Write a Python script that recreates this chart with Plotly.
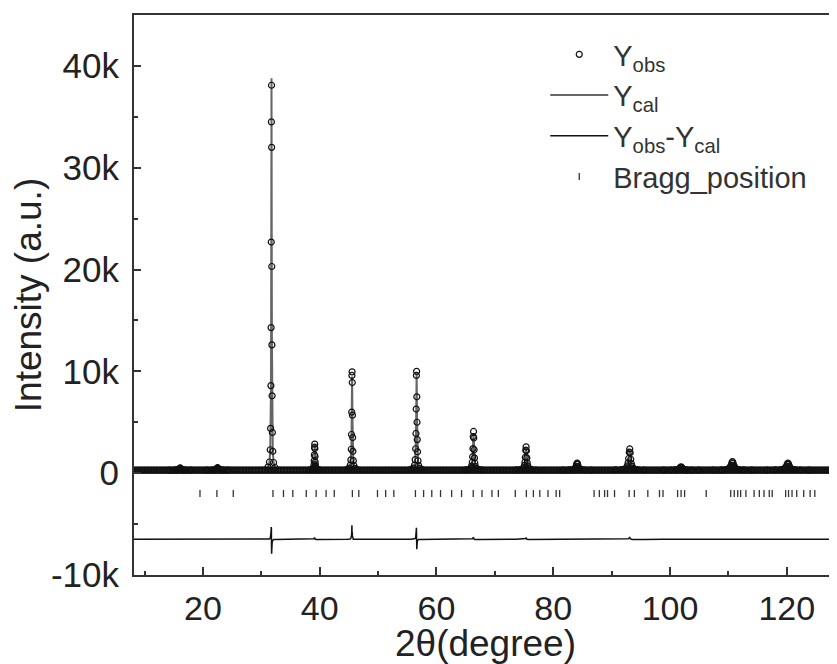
import numpy as np
import plotly.graph_objects as go

# ---------------- data ----------------
peak_2theta = [16.1, 22.5, 31.75, 39.15, 45.55, 56.6, 66.35, 75.35, 84.1, 93.1, 101.9, 110.7, 120.2]
peak_width = [3.0, 3.0, 1.0, 1.3, 1.4, 1.6, 2.2, 2.8, 4.0, 4.0, 5.0, 5.5, 6.0]
profile_offsets = [-0.6, -0.35, -0.22, -0.15, -0.1, -0.07, -0.045, -0.02, 0.0,
                   0.02, 0.045, 0.07, 0.1, 0.15, 0.22, 0.35, 0.6]

ycal_profiles = [
    [301, 304, 310, 320, 340, 368, 410, 472, 500, 472, 410, 368, 340, 320, 310, 304, 301],
    [302, 304, 311, 322, 344, 375, 421, 489, 520, 489, 421, 375, 344, 322, 311, 304, 302],
    [570, 1070, 2190, 4150, 8000, 13400, 21500, 33400, 38800, 33400, 21500, 13400, 8000, 4150, 2190, 1070, 570],
    [317, 348, 418, 540, 780, 1116, 1620, 2364, 2700, 2364, 1620, 1116, 780, 540, 418, 348, 317],
    [364, 484, 751, 1220, 2140, 3428, 5360, 8212, 9500, 8212, 5360, 3428, 2140, 1220, 751, 484, 364],
    [366, 490, 765, 1250, 2200, 3530, 5525, 8470, 9800, 8470, 5525, 3530, 2200, 1250, 765, 490, 366],
    [325, 372, 476, 660, 1020, 1524, 2280, 3396, 3900, 3396, 2280, 1524, 1020, 660, 476, 372, 325],
    [315, 343, 405, 515, 730, 1031, 1483, 2149, 2450, 2149, 1483, 1031, 730, 515, 405, 343, 315],
    [305, 313, 332, 365, 430, 521, 658, 859, 950, 859, 658, 521, 430, 365, 332, 313, 305],
    [313, 338, 393, 490, 680, 946, 1345, 1934, 2200, 1934, 1345, 946, 680, 490, 393, 338, 313],
    [302, 306, 315, 330, 360, 402, 465, 558, 600, 558, 465, 402, 360, 330, 315, 306, 302],
    [306, 316, 339, 380, 460, 572, 740, 988, 1100, 988, 740, 572, 460, 380, 339, 316, 306],
    [305, 313, 332, 365, 430, 521, 658, 859, 950, 859, 658, 521, 430, 365, 332, 313, 305],
]

yobs_profiles = [
    [305, 300, 318, 315, 352, 360, 425, 460, 515, 480, 400, 375, 332, 326, 305, 310, 298],
    [298, 309, 305, 330, 338, 382, 430, 480, 540, 495, 415, 366, 350, 318, 315, 300, 304],
    [590, 1100, 2300, 4400, 8600, 14300, 22700, 34500, 38100, 32000, 20300, 12600, 7600, 4000, 2150, 1050, 560],
    [320, 352, 430, 565, 830, 1220, 1800, 2550, 2850, 2420, 1640, 1100, 770, 530, 410, 345, 315],
    [370, 495, 790, 1310, 2350, 3800, 6000, 9600, 9950, 8900, 5700, 3500, 2150, 1230, 760, 480, 365],
    [372, 500, 800, 1330, 2400, 3900, 6300, 9600, 10000, 7500, 5000, 3300, 2100, 1220, 750, 485, 362],
    [330, 380, 490, 690, 1080, 1620, 2420, 3600, 4100, 3450, 2300, 1500, 1000, 650, 470, 370, 322],
    [318, 348, 415, 530, 760, 1080, 1560, 2260, 2580, 2200, 1500, 1020, 720, 510, 400, 340, 312],
    [306, 316, 338, 372, 442, 540, 680, 890, 990, 870, 650, 515, 425, 360, 330, 312, 304],
    [316, 345, 405, 515, 720, 1010, 1440, 2060, 2380, 2000, 1370, 940, 670, 480, 388, 335, 311],
    [303, 308, 318, 336, 368, 410, 478, 570, 620, 560, 462, 398, 356, 328, 314, 305, 301],
    [308, 320, 346, 392, 478, 595, 770, 1020, 1140, 1000, 745, 568, 455, 376, 336, 315, 305],
    [307, 316, 338, 374, 444, 538, 680, 885, 985, 870, 660, 518, 428, 362, 330, 312, 304],
]

background_level = 300
scan_start, scan_end, scan_step = 8.0, 130.0, 0.25
diff_offset = -6500

bragg_2theta = [19.5, 22.4, 25.2, 32.0, 33.8, 35.4, 37.7, 39.4, 41.1, 42.5, 45.6, 46.7,
                49.9, 51.3, 52.7, 56.4, 57.8, 59.2, 60.7, 62.6, 64.3, 66.3, 67.8, 69.5,
                70.6, 73.5, 75.4, 76.6, 77.7, 79.1, 80.5, 81.1, 87.0, 87.9, 88.8, 89.3,
                90.5, 93.0, 93.9, 96.2, 98.2, 98.8, 101.3, 101.9, 102.5, 106.2, 110.4,
                111.0, 111.6, 112.1, 113.0, 114.4, 115.3, 116.1, 117.0, 117.5, 119.8,
                120.3, 120.9, 121.7, 122.9, 124.0, 124.8, 127.9]
bragg_level = -2000

x_ticks = [20, 40, 60, 80, 100, 120]
y_ticks = [-10000, 0, 10000, 20000, 30000, 40000]
y_tick_labels = ["-10k", "0", "10k", "20k", "30k", "40k"]

# ---------------- assemble series ----------------
peak_x = []
for p, w in zip(peak_2theta, peak_width):
    peak_x.append([p + o * w for o in profile_offsets])

cal_x = [scan_start] + [v for xs in peak_x for v in xs] + [scan_end]
cal_y = [background_level] + [v for ys in ycal_profiles for v in ys] + [background_level]

scan_x = np.arange(scan_start, scan_end, scan_step)
obs_x = list(scan_x) + [v for xs in peak_x for v in xs]
obs_y = [background_level] * len(scan_x) + [v for ys in yobs_profiles for v in ys]

obs_on_cal = [background_level] + [v for ys in yobs_profiles for v in ys] + [background_level]
diff_y = [o - c + diff_offset for o, c in zip(obs_on_cal, cal_y)]

font_family = "Liberation Sans, Arial, sans-serif"

fig = go.Figure()
fig.add_trace(go.Scatter(x=cal_x, y=cal_y, mode="lines", name="Y<sub>cal</sub>",
                         line=dict(color="#666666", width=2), legendrank=2))
fig.add_trace(go.Scatter(x=cal_x, y=diff_y, mode="lines", name="Y<sub>obs</sub>-Y<sub>cal</sub>",
                         line=dict(color="#111111", width=1.5), legendrank=3))
fig.add_trace(go.Scatter(x=bragg_2theta, y=[bragg_level] * len(bragg_2theta), mode="markers",
                         name="Bragg_position", legendrank=4,
                         marker=dict(symbol="line-ns", size=5, color="#333333",
                                     line=dict(color="#333333", width=1.3))))
fig.add_trace(go.Scatter(x=obs_x, y=obs_y, mode="markers", name="Y<sub>obs</sub>", legendrank=1,
                         marker=dict(symbol="circle-open", size=6, color="#111111",
                                     line=dict(color="#111111", width=1.2))))

# the page body adds an 8 px offset, so the figure is laid out 8 px smaller
fig.update_layout(
    width=829, height=656,
    margin=dict(l=126, r=0, t=7, b=89),
    paper_bgcolor="white", plot_bgcolor="white",
    font=dict(family=font_family, color="#222222"),
    showlegend=True,
    legend=dict(x=0.585, y=0.975, xanchor="left", yanchor="top", itemwidth=58,
                bgcolor="rgba(0,0,0,0)", font=dict(size=29, color="#333333")),
)
fig.update_xaxes(
    range=[8.2, 128.6], tickvals=x_ticks, ticks="inside", ticklen=8, tickwidth=1.5,
    tickcolor="#333333", minor=dict(dtick=10, ticks="inside", ticklen=4, tickcolor="#333333"),
    showline=True, linewidth=2, linecolor="#333333", mirror=True, showgrid=False, zeroline=False,
    tickfont=dict(size=34, color="#222222"), ticklabelstandoff=2, automargin=False,
    title=dict(text="2θ(degree)", font=dict(size=37, color="#222222")),
)
fig.update_yaxes(
    range=[-10000, 45000], tickvals=y_ticks, ticktext=y_tick_labels, ticks="inside",
    ticklen=7, tickwidth=1.5, tickcolor="#333333",
    minor=dict(dtick=5000, ticks="inside", ticklen=4, tickcolor="#333333"),
    showline=True, linewidth=2, linecolor="#333333", mirror=False, showgrid=False, zeroline=False,
    tickfont=dict(size=35, color="#222222"), ticklabelstandoff=6,
    title=dict(text="Intensity (a.u.)", font=dict(size=37, color="#222222"), standoff=10),
)

fig.write_html("out.html")
